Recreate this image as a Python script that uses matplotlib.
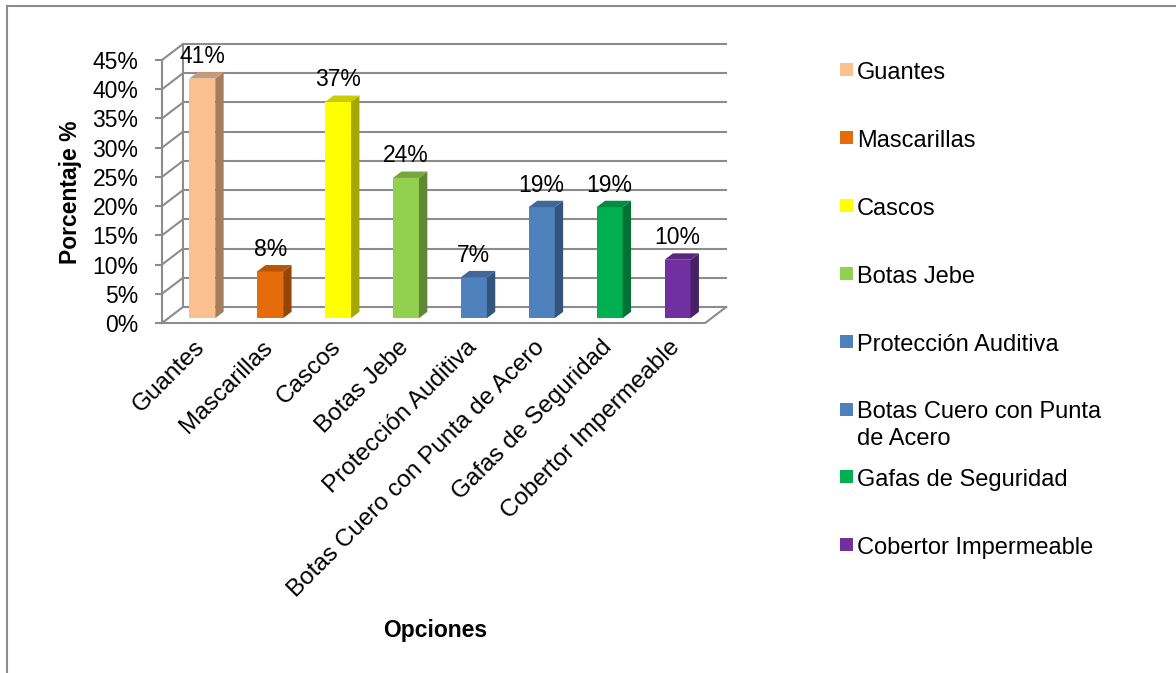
import numpy as np
import matplotlib.pyplot as plt
from matplotlib.lines import Line2D
from matplotlib.patches import Polygon, Rectangle
from matplotlib.colors import to_rgb

plt.rcParams['font.family'] = ['Liberation Sans', 'DejaVu Sans']

# datos de la encuesta
opciones = ["Guantes", "Mascarillas", "Cascos", "Botas Jebe", "Protección Auditiva",
            "Botas Cuero con Punta de Acero", "Gafas de Seguridad", "Cobertor Impermeable"]
leyenda = ["Guantes", "Mascarillas", "Cascos", "Botas Jebe", "Protección Auditiva",
           "Botas Cuero con Punta\nde Acero", "Gafas de Seguridad", "Cobertor Impermeable"]
porcentajes = [41, 8, 37, 24, 7, 19, 19, 10]
colores = ["#FAC090", "#E46C0A", "#FFFF00", "#92D050", "#4F81BD", "#4F81BD", "#00B050", "#7030A0"]
ticks_y = list(range(0, 50, 5))

W, H = 1176, 673
GRIS = "#8C8C8C"

fig = plt.figure(figsize=(W / 100, H / 100), dpi=100)

# ejes en pixeles: 67.9 px por categoria, 5.844 px por punto porcentual
px_x = 67.9
px_y = 263 / 45
x_lim = (-0.5, 7.9)
y_lim = (0, 48)
izq, piso = 162, 323
ancho = (x_lim[1] - x_lim[0]) * px_x
alto = (y_lim[1] - y_lim[0]) * px_y
ax = fig.add_axes([izq / W, (H - piso) / H, ancho / W, alto / H])
ax.set_xlim(*x_lim)
ax.set_ylim(*y_lim)
ax.set_facecolor("none")

# profundidad del efecto 3D (en unidades de datos)
DX = 21 / px_x
DY = 16 / px_y
n = len(opciones)
x0, x1 = -0.5, n - 0.5

# pared del fondo y pared lateral
for v in ticks_y:
    ax.plot([x0 + DX, x1 + DX], [v + DY, v + DY], color=GRIS, lw=1.5, zorder=1, clip_on=False)
    ax.plot([x0, x0 + DX], [v, v + DY], color=GRIS, lw=1.5, zorder=1, clip_on=False)
ax.plot([x0 + DX, x0 + DX], [DY, ticks_y[-1] + DY], color=GRIS, lw=1.5, zorder=1, clip_on=False)

# piso
ax.plot([x0, x1, x1 + DX], [0, 0, DY], color=GRIS, lw=1.5, zorder=1, clip_on=False)

# eje y
for s in ["top", "right", "bottom"]:
    ax.spines[s].set_visible(False)
ax.spines["left"].set_bounds(0, 45)
ax.spines["left"].set_color(GRIS)
ax.spines["left"].set_linewidth(1.5)
ax.set_yticks(ticks_y)
ax.set_yticklabels([f"{v}%" for v in ticks_y])
ax.tick_params(axis="y", length=5, width=1.5, color=GRIS, pad=12, labelsize=16.5)
ax.set_xticks([])

# barras con caras lateral y superior
F0, FD = 0.3, 0.4
BW = 26 / px_x
xs = np.arange(n) + F0 * DX
base = F0 * DY
ax.bar(xs, porcentajes, width=BW, bottom=base, color=colores, lw=0, zorder=3)
for xc, v, c in zip(xs, porcentajes, colores):
    rgb = np.array(to_rgb(c))
    l, r = xc - BW / 2, xc + BW / 2
    top = base + v
    lado = Polygon([(r, base), (r + FD * DX, base + FD * DY), (r + FD * DX, top + FD * DY), (r, top)],
                   closed=True, fc=rgb * 0.65, lw=0, zorder=3)
    tapa = Polygon([(l, top), (r, top), (r + FD * DX, top + FD * DY), (l + FD * DX, top + FD * DY)],
                   closed=True, fc=rgb * 0.8, lw=0, zorder=3)
    ax.add_patch(lado)
    ax.add_patch(tapa)
    ax.annotate(f"{v}%", xy=(xc, top + FD * DY), xytext=(0, 3), textcoords="offset points",
                ha="center", va="bottom", fontsize=16.5, zorder=4, annotation_clip=False)

# etiquetas de categorias
for i, nombre in enumerate(opciones):
    ax.annotate(nombre, xy=(i + 0.08, 0), xytext=(0, -15), textcoords="offset points",
                rotation=45, rotation_mode="anchor", ha="right", va="center",
                fontsize=17.5, annotation_clip=False)

# titulos de ejes
fig.text(435 / W, 1 - 630 / H, "Opciones", ha="center", va="center", fontsize=16.5, fontweight="bold")
fig.text(71 / W, 1 - 192 / H, "Porcentaje %", ha="center", va="center", rotation=90,
         fontsize=16.5, fontweight="bold")

# leyenda
for i, (nombre, c) in enumerate(zip(leyenda, colores)):
    yc = 69.5 + 67.9 * i
    fig.patches.append(Rectangle((840 / W, 1 - (yc + 6.5) / H), 13 / W, 13 / H,
                                 transform=fig.transFigure, fc=c, lw=0))
    fig.text(857 / W, 1 - (yc - 7.5) / H, nombre, ha="left", va="top", fontsize=17, linespacing=1.25)

# marco del grafico
fig.add_artist(Line2D([7 / W, 1], [1 - 5.5 / H, 1 - 5.5 / H], color=GRIS, lw=1.5, transform=fig.transFigure))
fig.add_artist(Line2D([7 / W, 7 / W], [0, 1 - 5.5 / H], color=GRIS, lw=1.5, transform=fig.transFigure))

fig.savefig("out.png", dpi=100)
